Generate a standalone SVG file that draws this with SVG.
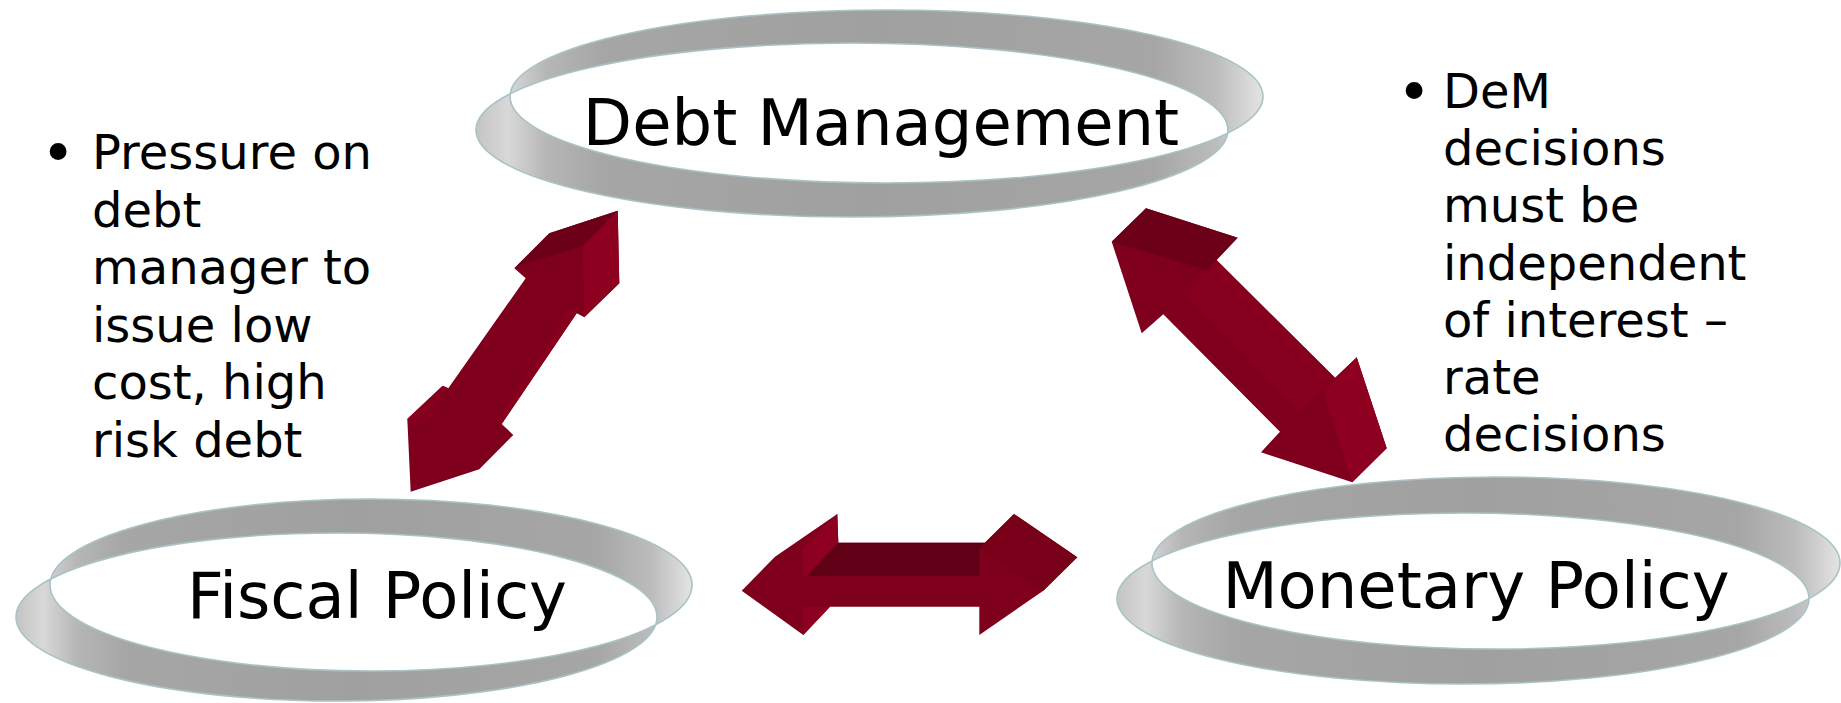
<svg xmlns="http://www.w3.org/2000/svg" width="1841" height="703" viewBox="0 0 1841 703">
  <defs>
    <linearGradient id="ringGrad" x1="0" y1="0" x2="1" y2="0">
      <stop offset="0" stop-color="#c4c4c4"/>
      <stop offset="0.04" stop-color="#d8d8d8"/>
      <stop offset="0.09" stop-color="#b6b6b6"/>
      <stop offset="0.16" stop-color="#a6a6a6"/>
      <stop offset="0.5" stop-color="#a0a0a0"/>
      <stop offset="0.86" stop-color="#a6a6a6"/>
      <stop offset="0.94" stop-color="#bcbcbc"/>
      <stop offset="1" stop-color="#e4e4e4"/>
    </linearGradient>
  </defs>
  <style>
    .ring { fill: url(#ringGrad); fill-rule: evenodd; stroke: #a9c3c5; stroke-width: 1.6; }
    .label { font-family: "DejaVu Sans", Verdana, sans-serif; font-size: 64px; fill: #000; text-anchor: middle; }
    .note { font-family: "DejaVu Sans", Verdana, sans-serif; font-size: 48px; fill: #000; }
    .bullet { font-size: 58px; }
    .front { fill: #7f001c; }
    .top { fill: #6b0018; }
    .side { fill: #8e0020; }
    .mid { fill: #86001e; }
    .dark { fill: #600017; }
  </style>
  <rect width="1841" height="703" fill="#ffffff"/>

  <g id="node-debt">
    <path class="ring" d="M 510,96.5 a 376.5,86.5 0 1 0 753,0 a 376.5,86.5 0 1 0 -753,0 Z M 476,130 a 376,87 0 1 0 752,0 a 376,87 0 1 0 -752,0 Z"/>
    <text class="label" x="881" y="145">Debt Management</text>
  </g>

  <g id="node-fiscal">
    <path class="ring" d="M 50,585 a 321,86 0 1 0 642,0 a 321,86 0 1 0 -642,0 Z M 16,617 a 320.5,84 0 1 0 641,0 a 320.5,84 0 1 0 -641,0 Z"/>
    <text class="label" x="377" y="618">Fiscal Policy</text>
  </g>

  <g id="node-monetary">
    <path class="ring" d="M 1152,563 a 344,86 0 1 0 688,0 a 344,86 0 1 0 -688,0 Z M 1117,598.5 a 346,85.5 0 1 0 692,0 a 346,85.5 0 1 0 -692,0 Z"/>
    <text class="label" x="1476" y="608">Monetary Policy</text>
  </g>

  <g id="note-left" class="note">
    <text class="bullet" x="41" y="173">•</text>
    <text x="92" y="169">Pressure on</text>
    <text x="92" y="226.5">debt</text>
    <text x="92" y="284">manager to</text>
    <text x="92" y="341.5">issue low</text>
    <text x="92" y="399">cost, high</text>
    <text x="92" y="456.5">risk debt</text>
  </g>

  <g id="note-right" class="note">
    <text class="bullet" x="1397" y="112">•</text>
    <text x="1443" y="108">DeM</text>
    <text x="1443" y="165">decisions</text>
    <text x="1443" y="222">must be</text>
    <text x="1443" y="280">independent</text>
    <text x="1443" y="337">of interest –</text>
    <text x="1443" y="394">rate</text>
    <text x="1443" y="451">decisions</text>
  </g>

  <g id="connectors">
    <g id="arrow-debt-fiscal">
      <polygon class="front" points="617.7,210.7 549.3,233.3 514.3,268.3 525.7,278.3 448.3,388.3 442.7,385.7 407.3,419 410.7,491.7 479.3,469.3 513.3,435 501.7,424 576.7,313.3 584.3,317.3 619.3,283.3"/>
      <polygon class="top" points="514.3,268.3 549.3,233.3 617.7,210.7 582.7,246 518,266"/>
      <polygon class="side" points="617.7,210.7 619.3,283.3 584.3,317.3 582.7,246"/>
      <polygon class="mid" points="571,307 576.7,313.3 501.7,424 496,419"/>
      <polygon class="mid" points="407.3,419 442.7,385.7 448.3,388.3 425,421 413,425"/>
    </g>
    <g id="arrow-debt-monetary">
      <polygon class="front" points="1111.7,241.7 1146,208.3 1237.7,237.7 1216.7,260 1335,377.7 1356.7,357.3 1386.7,448.3 1352.3,482.3 1261,452.3 1280,431.7 1163.3,314.3 1141.7,333.3"/>
      <polygon class="top" points="1111.7,241.7 1146,208.3 1237.7,237.7 1206.7,270"/>
      <polygon class="mid" points="1182.3,293.3 1216.7,260.7 1335,377.7 1300,412.3"/>
      <polygon class="side" points="1323.3,391.7 1356.7,357.3 1386.7,448.3 1352.3,482.3"/>
    </g>
    <g id="arrow-fiscal-monetary">
      <polygon class="front" points="741.7,590.7 775,556.7 837.3,514 838.3,542.7 986.7,542.7 979.3,548.3 1014,514 1077.3,557.3 1043.3,590.7 979.3,635 979.3,606.7 830,606.7 803.3,635"/>
      <polygon class="side" points="802.7,548.3 837.3,514 838.3,542.7 806.7,576 802.7,576"/>
      <polygon class="dark" points="806.7,576 838.3,542.7 986.7,542.7 979.3,548.3 979.3,576"/>
      <polygon class="side" points="802.7,606.7 830,606.7 803.3,635"/>
      <polygon fill="#780019" points="979.3,548.3 1014,514 1077.3,557.3 1043.3,590.7"/>
    </g>
  </g>
</svg>
